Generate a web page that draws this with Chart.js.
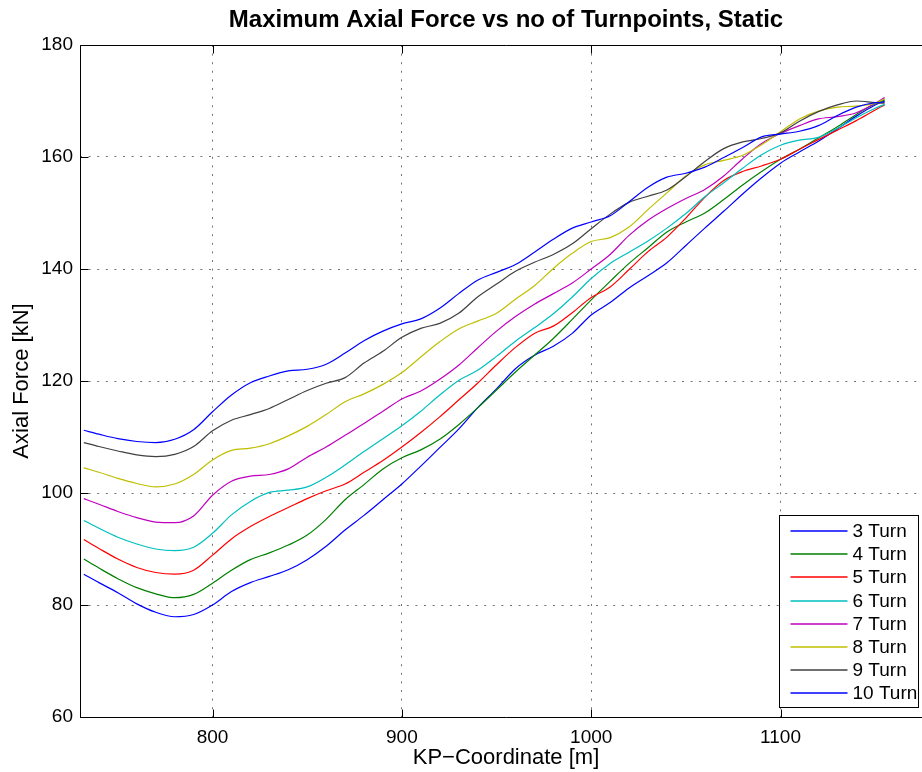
<!DOCTYPE html>
<html><head><meta charset="utf-8">
<script src="https://cdn.jsdelivr.net/npm/chart.js@4.4.1/dist/chart.umd.min.js"></script>
<style>
html,body{margin:0;padding:0;background:#fff;overflow:hidden;width:922px;height:772px}
#wrap{position:absolute;left:0;top:0;width:940px;height:772px}
</style>
</head><body><div id="wrap"><canvas id="c" width="940" height="772" style="width:940px;height:772px"></canvas></div>
<script>
const kp = [732,740,750,760,770,780,790,800,810,820,830,840,850,860,870,880,890,900,910,920,930,940,950,960,970,980,990,1000,1010,1020,1030,1040,1050,1060,1070,1080,1090,1100,1110,1120,1130,1140,1150,1155];
const turn3  = [85.5,84.0,82.2,80.2,78.7,77.9,78.3,80.0,82.4,84.0,85.1,86.3,88.1,90.5,93.4,96.0,98.8,101.6,104.8,108.1,111.4,115.2,118.6,122.2,124.6,126.2,128.5,131.8,134.0,136.6,138.8,141.1,144.2,147.3,150.3,153.4,156.3,158.9,160.9,162.8,165.0,167.3,169.3,170.0];
const turn4  = [88.2,86.6,84.7,83.1,82.0,81.3,81.9,83.9,86.2,88.1,89.3,90.7,92.5,95.3,98.8,101.5,104.3,106.3,107.7,109.6,112.2,115.2,118.4,121.6,124.6,127.6,131.0,134.5,137.8,141.0,143.8,146.6,148.4,150.0,152.4,155.0,157.4,159.6,161.4,163.4,165.4,167.6,169.5,170.2];
const turn5  = [91.7,90.1,88.2,86.7,85.8,85.5,86.2,88.9,91.8,94.0,95.8,97.4,99.0,100.4,101.6,103.7,105.8,108.2,110.8,113.6,116.6,119.6,122.9,126.0,128.5,129.8,132.2,134.9,136.8,139.9,143.1,145.7,149.1,152.8,155.8,157.4,158.4,159.6,161.4,163.1,164.8,166.5,168.4,169.3];
const turn6  = [95.1,93.7,92.1,90.9,90.0,89.7,90.3,92.8,96.1,98.5,100.1,100.5,101.1,102.8,105.0,107.4,109.7,112.0,114.6,117.5,120.1,121.9,124.4,127.1,129.5,132.0,135.0,138.3,141.0,143.0,145.0,147.3,149.9,152.9,155.4,158.0,160.4,162.1,163.0,163.5,165.1,167.0,168.7,169.4];
const turn7  = [99.0,98.0,96.7,95.6,94.8,94.7,95.9,99.6,102.1,103.0,103.3,104.3,106.4,108.2,110.3,112.4,114.6,116.8,118.2,120.3,122.8,125.9,128.9,131.5,133.7,135.6,137.5,140.0,142.6,146.0,148.7,150.8,152.6,154.2,156.6,159.7,162.4,164.2,165.6,166.8,167.2,167.9,169.6,170.6];
const turn8  = [104.5,103.7,102.6,101.7,101.1,101.6,103.3,105.9,107.6,108.0,108.8,110.2,111.9,114.0,116.3,117.7,119.4,121.5,124.3,127.0,129.3,130.7,132.1,134.6,137.0,140.1,142.8,144.9,145.6,147.5,150.6,153.6,156.6,158.6,159.4,160.3,162.2,164.5,166.8,168.2,168.9,169.1,169.6,170.4];
const turn9  = [109.0,108.3,107.5,106.8,106.5,106.9,108.3,111.1,113.0,114.0,115.1,116.7,118.3,119.6,120.6,123.2,125.3,127.8,129.4,130.3,132.1,135.0,137.3,139.6,141.2,142.6,144.5,147.2,149.8,151.9,153.0,154.1,156.5,159.2,161.5,162.7,163.3,164.3,166.4,168.1,169.3,170.0,169.7,169.6];
const turn10 = [111.2,110.5,109.7,109.2,109.0,109.6,111.3,114.5,117.5,119.7,120.9,121.8,122.1,123.0,125.0,127.2,128.9,130.2,131.1,133.0,135.6,138.0,139.4,140.8,143.0,145.3,147.3,148.4,149.5,152.0,154.6,156.4,157.1,158.2,159.9,161.7,163.6,164.1,164.6,165.6,167.4,168.9,169.7,169.8];

const seriesLabels = ['3 Turn','4 Turn','5 Turn','6 Turn','7 Turn','8 Turn','9 Turn','10 Turn'];
const seriesColors = ['#0000ff','#008000','#ff0000','#00bfbf','#bf00bf','#bfbf00','#404040','#0000ff'];
const seriesValues = [turn3,turn4,turn5,turn6,turn7,turn8,turn9,turn10];
const xTicks = [800,900,1000,1100];
const yTicks = [60,80,100,120,140,160,180];
const titleText = 'Maximum Axial Force vs no of Turnpoints, Static';
const xTitle = 'KP\u2212Coordinate [m]';
const yTitle = 'Axial Force [kN]';

const FONT = "'Liberation Sans', Arial, Helvetica, sans-serif";

const datasets = seriesValues.map((vals, i) => ({
  label: seriesLabels[i],
  data: kp.map((x, j) => ({x: x, y: vals[j]})),
  borderColor: seriesColors[i],
  backgroundColor: seriesColors[i],
  borderWidth: 1.2,
  pointRadius: 0,
  fill: false,
  cubicInterpolationMode: 'monotone',
  order: seriesValues.length - i
}));

const decor = {
  id: 'decor',
  afterDraw(chart) {
    const ctx = chart.ctx, ca = chart.chartArea;
    const xs = chart.scales.x, ys = chart.scales.y;
    ctx.save();
    ctx.strokeStyle = '#000';
    ctx.lineWidth = 1;
    ctx.setLineDash([]);
    const L = Math.round(ca.left) + 0.5, T = Math.round(ca.top) + 0.5, B = Math.round(ca.bottom) + 0.5;
    ctx.beginPath();
    ctx.moveTo(L, T); ctx.lineTo(L, B); ctx.lineTo(ca.right, B);
    ctx.moveTo(L, T); ctx.lineTo(ca.right, T);
    ctx.stroke();
    ctx.beginPath();
    xTicks.forEach(v => {
      const px = Math.round(xs.getPixelForValue(v)) + 0.5;
      ctx.moveTo(px, B); ctx.lineTo(px, B - 8);
      ctx.moveTo(px, T); ctx.lineTo(px, T + 8);
    });
    yTicks.forEach(v => {
      const py = Math.round(ys.getPixelForValue(v)) + 0.5;
      ctx.moveTo(L, py); ctx.lineTo(L + 8, py);
    });
    ctx.stroke();
    ctx.fillStyle = '#000';
    ctx.textAlign = 'center';
    ctx.textBaseline = 'middle';
    ctx.font = 'bold 24px ' + FONT;
    const cx = (ca.left + ca.right) / 2;
    ctx.fillText(titleText, cx, 20);
    ctx.font = '22px ' + FONT;
    ctx.fillText(xTitle, cx, 758);
    ctx.save();
    ctx.translate(22, (ca.top + ca.bottom) / 2);
    ctx.rotate(-Math.PI / 2);
    ctx.fillText(yTitle, 0, 0);
    ctx.restore();
    const bx = Math.round(ca.left + 699) + 0.5, by = Math.round(ca.top + 470) + 0.5, bw = 139, bh = 192;
    ctx.fillStyle = '#fff';
    ctx.fillRect(bx, by, bw, bh);
    ctx.strokeStyle = '#000';
    ctx.lineWidth = 1;
    ctx.strokeRect(bx, by, bw, bh);
    ctx.font = '19px ' + FONT;
    ctx.textAlign = 'left';
    ctx.textBaseline = 'middle';
    chart.data.datasets.forEach((ds, i) => {
      const ry = Math.round(by + 15.5 + i * 23.2);
      ctx.strokeStyle = seriesColors[i];
      ctx.lineWidth = 1.6;
      ctx.beginPath();
      ctx.moveTo(bx + 11, ry); ctx.lineTo(bx + 68, ry);
      ctx.stroke();
      ctx.fillStyle = '#000';
      ctx.fillText(ds.label, bx + 73, ry + 1);
    });
    ctx.restore();
  }
};

new Chart(document.getElementById('c'), {
  type: 'line',
  data: { datasets: datasets },
  options: {
    responsive: false,
    animation: false,
    devicePixelRatio: 1,
    layout: { padding: { top: 45, right: 8, left: 0, bottom: 0 } },
    plugins: { legend: { display: false }, tooltip: { enabled: false }, title: { display: false } },
    scales: {
      x: {
        type: 'linear', min: 730, max: 1180,
        afterBuildTicks: s => { s.ticks = xTicks.map(v => ({value: v})); },
        afterFit: s => { s.height = 55; },
        ticks: { color: '#000', font: { family: FONT, size: 19 }, padding: 9, maxRotation: 0, autoSkip: false, callback: v => String(v) },
        grid: { color: 'rgba(0,0,0,0.55)', lineWidth: 1, drawTicks: false },
        border: { display: false, dash: [2, 6.6] }
      },
      y: {
        type: 'linear', min: 60, max: 180,
        afterBuildTicks: s => { s.ticks = yTicks.map(v => ({value: v})); },
        afterFit: s => { s.width = 80; },
        ticks: { color: '#000', font: { family: FONT, size: 19 }, padding: 7, callback: v => String(v) },
        grid: { color: 'rgba(0,0,0,0.55)', lineWidth: 1, drawTicks: false },
        border: { display: false, dash: [2, 6.6] }
      }
    }
  },
  plugins: [decor]
});
</script>
</body></html>
